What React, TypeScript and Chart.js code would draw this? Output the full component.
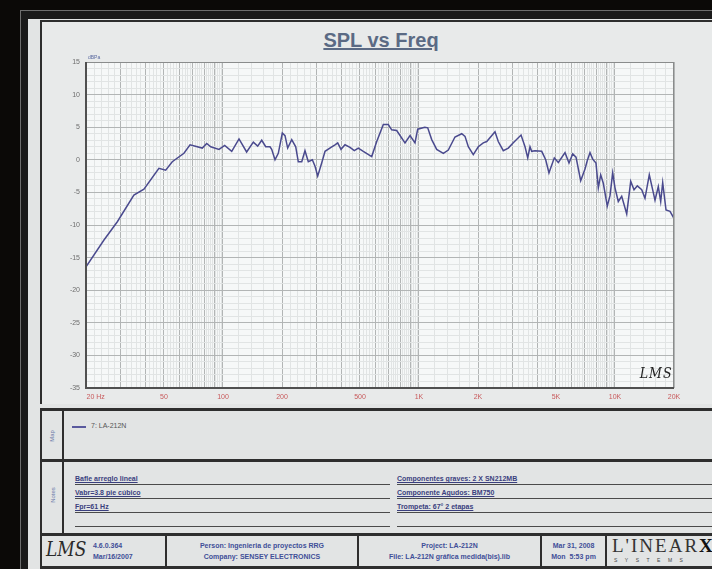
import React, { useEffect, useRef } from "react";
import { Chart, registerables } from "chart.js";
Chart.register(...registerables);

// ---- data ----
const freqHz = [
  20, 24.7, 28.9, 35.1, 39.5, 47.1, 51.0, 55.1, 63.2, 67.9, 78.4, 82.6, 86.6, 95.4,
  102, 110.8, 120.7, 132, 142.8, 150.3, 157.6, 165.2, 173.7, 177.2, 184.2, 191.5,
  200.7, 207.2, 213.8, 224.2, 235, 242.2, 252.2, 262, 272.4, 285.6, 294.8, 304.2,
  318.8, 331.6, 355.6, 372.8, 384.8, 400, 419.2, 444.6, 467.6, 490.2, 519.8, 573.8,
  608.6, 657.6, 697.2, 725.6, 769.4, 848.4, 900, 954, 984.8, 1070, 1108, 1161, 1231,
  1331, 1411, 1526, 1652, 1717, 1785, 1892, 2007, 2128, 2216, 2442, 2538, 2692, 2855,
  3028, 3316, 3475, 3587, 3684, 3758, 3906, 4227, 4430, 4604, 4902, 5138, 5559, 5826,
  6085, 6325, 6683, 7030, 7224, 7456, 7697, 7998, 8220, 8453, 8716, 9134, 9430, 9733,
  10000, 10394, 10820, 11476, 12028, 12505, 12998, 13686, 14223, 14963, 15572, 16000,
  16632, 17106, 17512, 18208, 19084, 19836, 20000,
];
const splDb = [
  -16.4, -12.3, -9.5, -5.4, -4.5, -1.3, -1.6, -0.3, 1.0, 2.3, 1.8, 2.5, 2.0, 1.6,
  2.2, 1.3, 3.2, 1.2, 2.7, 2.1, 3.0, 2.0, 2.0, 1.6, 0.0, 1.0,
  4.1, 3.7, 1.8, 3.1, 2.0, -0.3, -0.3, 1.4, -0.3, 0.0, -1.0, -2.5,
  -0.5, 1.3, 1.9, 2.3, 2.6, 1.6, 2.3, 1.9, 1.4, 1.8, 1.3, 0.5,
  2.8, 5.4, 5.4, 4.6, 4.5, 2.6, 3.7, 2.6, 4.7, 5.0, 4.9, 3.1, 1.6,
  1.0, 1.5, 3.5, 4.0, 3.6, 2.0, 0.8, 2.0, 2.6, 2.8, 4.3, 2.8, 1.4, 1.8,
  2.6, 3.8, 2.0, 0.3, 2.0, 1.3, 1.4, 1.3, 0.0, -2.0, 0.3, -0.4, 1.1, -0.5,
  0.9, 0.4, -3.2, -1.4, -0.1, 1.1, 0.1, -0.5, -4.3, -2.3, -3.6, -7.1, -5.5, -2.0,
  -4.3, -6.4, -5.6, -8.3, -3.3, -4.6, -4.0, -4.6, -5.9, -2.3, -4.6, -6.2,
  -4.1, -6.4, -3.5, -7.7, -7.9, -8.8, -8.6,
];
const xLabelValues = [20, 50, 100, 200, 500, 1000, 2000, 5000, 10000, 20000];
const xLabelTexts = ["          20 Hz", "50", "100", "200", "500", "1K", "2K", "5K", "10K", "20K"];
const yMin = -35;
const yMax = 15;
const seriesName = "7: LA-212N";

// grid positions for the log axis (every 0.2 of a decade unit)
const xGrid: number[] = [];
[10, 100, 1000, 10000].forEach((d) => {
  for (let k = 5; k <= 50; k++) {
    const v = (k * d) / 5;
    if (v >= 20 && v <= 20000 && !xGrid.includes(v)) xGrid.push(v);
  }
});
const yGrid: number[] = [];
for (let v = yMin; v <= yMax; v++) yGrid.push(v);

const isMajorX = (v: number) => {
  const d = Math.pow(10, Math.floor(Math.log10(v) + 1e-9));
  return Math.abs(v / d - Math.round(v / d)) < 1e-6;
};

const bgPlugin = {
  id: "plotBg",
  beforeDraw(chart: any) {
    const { ctx, chartArea: a } = chart;
    ctx.save();
    ctx.fillStyle = "#f6f8f8";
    ctx.fillRect(a.left, a.top, a.right - a.left, a.bottom - a.top);
    ctx.restore();
  },
  afterDatasetsDraw(chart: any) {
    const { ctx, chartArea: a } = chart;
    ctx.save();
    ctx.strokeStyle = "#8a8c8c";
    ctx.lineWidth = 1;
    ctx.strokeRect(a.left + 0.5, a.top + 0.5, a.right - a.left - 1, a.bottom - a.top - 1);
    ctx.strokeStyle = "#505050";
    ctx.lineWidth = 2;
    ctx.beginPath();
    ctx.moveTo(a.left, a.top);
    ctx.lineTo(a.left, a.bottom);
    ctx.lineTo(a.right, a.bottom);
    ctx.stroke();
    ctx.restore();
  },
};

function SplChart() {
  const ref = useRef<HTMLCanvasElement | null>(null);
  useEffect(() => {
    if (!ref.current) return;
    const chart = new Chart(ref.current, {
      type: "line",
      data: {
        datasets: [
          {
            label: seriesName,
            data: freqHz.map((f, i) => ({ x: f, y: splDb[i] })),
            borderColor: "#4a4a8e",
            borderWidth: 1.5,
            pointRadius: 0,
            tension: 0,
            fill: false,
          },
        ],
      },
      options: {
        animation: false,
        responsive: false,
        layout: { padding: { left: 0, top: 40, right: 38, bottom: 0 } },
        plugins: { legend: { display: false }, tooltip: { enabled: false }, title: { display: false } },
        scales: {
          x: {
            type: "logarithmic",
            min: 20,
            max: 20000,
            afterBuildTicks: (s: any) => {
              s.ticks = xGrid.map((v) => ({ value: v }));
            },
            afterFit: (s: any) => {
              s.height = 15;
            },
            border: { display: false },
            grid: {
              drawTicks: false,
              lineWidth: 1,
              color: (c: any) => (c.tick && isMajorX(c.tick.value) ? "#b2b5b5" : "#e1e4e4"),
            },
            ticks: {
              autoSkip: false,
              maxRotation: 0,
              minRotation: 0,
              padding: 5,
              color: "#c85a5c",
              font: { size: 7, family: "Liberation Sans, Arial, sans-serif" },
              callback: (v: any) => {
                const i = xLabelValues.indexOf(Number(v));
                return i >= 0 ? xLabelTexts[i] : "";
              },
            },
          },
          y: {
            type: "linear",
            min: yMin,
            max: yMax,
            afterBuildTicks: (s: any) => {
              s.ticks = yGrid.map((v) => ({ value: v }));
            },
            afterFit: (s: any) => {
              s.width = 44;
            },
            border: { display: false },
            grid: {
              drawTicks: false,
              lineWidth: 1,
              color: (c: any) => (c.tick && c.tick.value % 5 === 0 ? "#b2b5b5" : "#e1e4e4"),
            },
            ticks: {
              autoSkip: false,
              padding: 6,
              color: "#6e6e6e",
              font: { size: 7, family: "Liberation Sans, Arial, sans-serif" },
              callback: (v: any) => (Number(v) % 5 === 0 ? String(v) : ""),
            },
          },
        },
      },
      plugins: [bgPlugin],
    } as any);
    return () => chart.destroy();
  }, []);
  return (
    <canvas
      ref={ref}
      width={670}
      height={381}
      style={{ position: "absolute", left: 42, top: 22, width: 670, height: 381 }}
    />
  );
}

const font = '"Liberation Sans", Arial, sans-serif';
const abs = (o: any) => ({ position: "absolute", ...o });
const blue = "#3f4f98";
const lineC = "#2e2e2e";

function NoteRow({ left, top, text }: { left: number; top: number; text: string }) {
  return (
    <div
      style={abs({
        left,
        top,
        width: 315,
        height: 11,
        borderBottom: "1px solid #4a4a4a",
        fontSize: 7,
        fontWeight: "bold",
        color: "#3a3f7e",
        lineHeight: "11px",
        textDecoration: "underline",
        whiteSpace: "nowrap",
      })}
    >
      {text}
    </div>
  );
}

export default function App() {
  return (
    <div style={abs({ position: "fixed", left: 0, top: 0, width: 712, height: 569, background: "#0b0907", overflow: "hidden", fontFamily: font })}>
      <div style={abs({ left: 20, top: 10, width: 710, height: 580, border: "1px solid #6e6e6e", background: "#1a1a1a", boxSizing: "border-box" })} />
      <div style={abs({ left: 28, top: 19, width: 700, height: 560, background: "#e2e4e4" })} />
      {/* chart box */}
      <div style={abs({ left: 40, top: 20, width: 690, height: 384, borderLeft: `2px solid ${lineC}`, borderTop: `2px solid ${lineC}`, background: "#e8eaea", boxSizing: "border-box" })} />
      <div style={abs({ left: 42, top: 29, width: 670, textAlign: "center", paddingLeft: 0 })}>
        <span style={{ fontSize: 20, fontWeight: "bold", color: "#5b6a84", textDecoration: "underline", position: "relative", left: 4 }}>SPL vs Freq</span>
      </div>
      <SplChart />
      <div style={abs({ left: 88, top: 54, fontSize: 5, color: "#5a6aa0" })}>dBPa</div>
      <div style={abs({ left: 638, top: 365, fontSize: 14, fontStyle: "italic", fontFamily: '"DejaVu Serif", serif', color: "#222", letterSpacing: 1, transform: "scaleX(0.9)" })}>LMS</div>

      {/* map box */}
      <div style={abs({ left: 40, top: 408, width: 690, height: 51, borderLeft: `2px solid ${lineC}`, borderTop: `3px solid ${lineC}`, boxSizing: "border-box" })} />
      <div style={abs({ left: 62, top: 411, width: 2, height: 48, background: lineC })} />
      <div style={abs({ left: 44, top: 433, width: 16, fontSize: 6, color: "#6a78a8", transform: "rotate(-90deg)", textAlign: "center" })}>Map</div>
      <div style={abs({ left: 72, top: 426, width: 14, height: 1.5, background: "#5a5a9e" })} />
      <div style={abs({ left: 91, top: 422, fontSize: 7, color: "#555" })}>{seriesName}</div>

      {/* notes box */}
      <div style={abs({ left: 40, top: 459, width: 690, height: 74, borderLeft: `2px solid ${lineC}`, borderTop: `3px solid ${lineC}`, boxSizing: "border-box" })} />
      <div style={abs({ left: 62, top: 462, width: 2, height: 71, background: lineC })} />
      <div style={abs({ left: 40, top: 492, width: 26, fontSize: 6, color: "#6a78a8", transform: "rotate(-90deg)", textAlign: "center" })}>Notes</div>
      <NoteRow left={75} top={473} text="Bafle arreglo lineal" />
      <NoteRow left={75} top={487} text="Vabr=3.8 pie cúbico" />
      <NoteRow left={75} top={501} text="Fpr=61 Hz" />
      <NoteRow left={75} top={515} text="" />
      <NoteRow left={397} top={473} text="Componentes graves: 2 X SN212MB" />
      <NoteRow left={397} top={487} text="Componente Agudos: BM750" />
      <NoteRow left={397} top={501} text="Trompeta: 67° 2 etapas" />
      <NoteRow left={397} top={515} text="" />

      {/* footer */}
      <div style={abs({ left: 40, top: 533, width: 690, height: 36, borderLeft: `2px solid ${lineC}`, borderTop: `3px solid ${lineC}`, borderBottom: `3px solid ${lineC}`, boxSizing: "border-box" })} />
      {[165, 357, 540, 605].map((x) => (
        <div key={x} style={abs({ left: x, top: 536, width: 2, height: 30, background: lineC })} />
      ))}
      <div style={abs({ left: 46, top: 537, fontSize: 20, fontStyle: "italic", fontFamily: '"DejaVu Serif", serif', color: "#2a2a2a", transform: "scaleX(0.85)", transformOrigin: "left" })}>LMS</div>
      <div style={abs({ left: 93, top: 540, fontSize: 7, fontWeight: "bold", color: blue, lineHeight: "11px" })}>
        4.6.0.364<br />Mar/16/2007
      </div>
      <div style={abs({ left: 167, top: 540, width: 190, textAlign: "center", fontSize: 7, fontWeight: "bold", color: blue, lineHeight: "11px" })}>
        Person: Ingenieria de proyectos RRG<br />Company: SENSEY ELECTRONICS
      </div>
      <div style={abs({ left: 359, top: 540, width: 181, textAlign: "center", fontSize: 7, fontWeight: "bold", color: blue, lineHeight: "11px" })}>
        Project: LA-212N<br />File: LA-212N gráfica medida(bis).lib
      </div>
      <div style={abs({ left: 542, top: 540, width: 63, textAlign: "center", fontSize: 7, fontWeight: "bold", color: blue, lineHeight: "11px" })}>
        Mar 31, 2008<br />Mon&nbsp; 5:53 pm
      </div>
      <div style={abs({ left: 612, top: 535, fontSize: 19, fontFamily: '"Liberation Serif", serif', color: "#333", letterSpacing: 2, whiteSpace: "nowrap" })}>
        L'INEAR<span style={{ fontWeight: "bold", color: "#111" }}>X</span>
      </div>
      <div style={abs({ left: 614, top: 557, fontSize: 5, color: "#444", letterSpacing: 7.5, whiteSpace: "nowrap" })}>SYSTEMS</div>
    </div>
  );
}
